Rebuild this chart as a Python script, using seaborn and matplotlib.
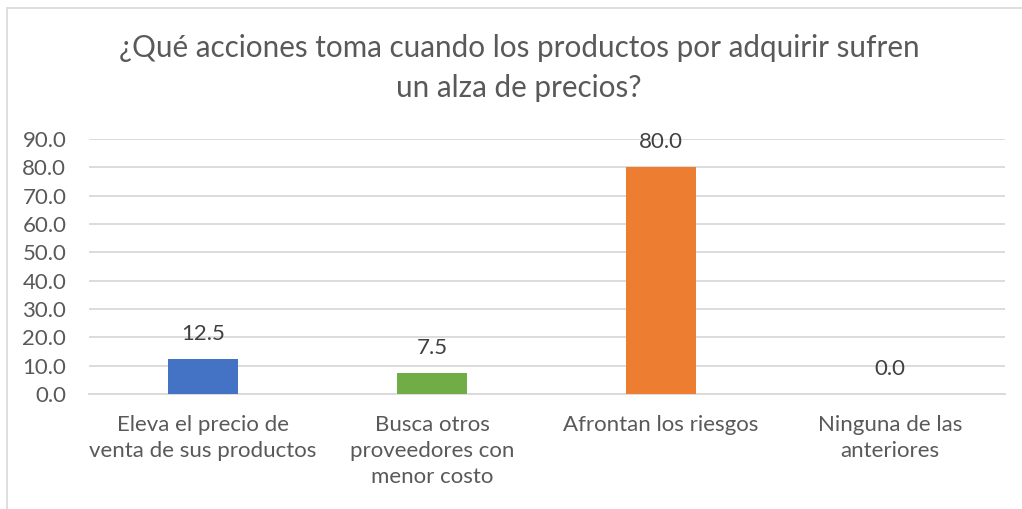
import matplotlib.pyplot as plt
import seaborn as sns
import pandas as pd
from matplotlib.patches import Rectangle

categorias = [
    "Eleva el precio de\nventa de sus productos",
    "Busca otros\nproveedores con\nmenor costo",
    "Afrontan los riesgos",
    "Ninguna de las\nanteriores",
]
porcentajes = [12.5, 7.5, 80.0, 0.0]
colores = ["#4472C4", "#70AD47", "#ED7D31", "#A5A5A5"]
y_ticks = [0, 10, 20, 30, 40, 50, 60, 70, 80, 90]

titulo = "¿Qué acciones toma cuando los productos por adquirir sufren\nun alza de precios?"

texto = "#595959"
rejilla = "#D9D9D9"


def main():
    sns.set_theme(style="white")
    plt.rcParams["font.family"] = ["Lato", "DejaVu Sans"]

    df = pd.DataFrame({"categoria": categorias, "valor": porcentajes})

    fig = plt.figure(figsize=(10.22, 5.09), dpi=100)
    ax = fig.add_axes([88.5 / 1022, 1 - 394 / 509, 916 / 1022, 255 / 509])

    sns.barplot(
        data=df,
        x="categoria",
        y="valor",
        hue="categoria",
        palette=colores,
        saturation=1,
        width=0.31,
        linewidth=0,
        legend=False,
        ax=ax,
        zorder=3,
    )

    ax.set_ylim(0, 90)
    ax.set_yticks(y_ticks)
    ax.set_yticklabels([f"{v:.1f}" for v in y_ticks])
    ax.set_xlim(-0.5, len(categorias) - 0.5)
    ax.set_xlabel("")
    ax.set_ylabel("")

    ax.grid(axis="y", color=rejilla, linewidth=1.3, zorder=0)
    for s in ["top", "right", "left"]:
        ax.spines[s].set_visible(False)
    ax.spines["bottom"].set_color(rejilla)
    ax.spines["bottom"].set_linewidth(1.3)

    ax.tick_params(axis="y", length=0, pad=16, labelsize=16, labelcolor=texto)
    ax.tick_params(axis="x", length=0, pad=15, labelsize=16, labelcolor=texto)
    for lbl in ax.get_xticklabels():
        lbl.set_linespacing(1.38)

    for i, v in enumerate(porcentajes):
        ax.annotate(
            f"{v:.1f}",
            xy=(i, v),
            xytext=(0, 18),
            textcoords="offset points",
            ha="center",
            va="center",
            fontsize=16,
            color="#404040",
        )

    fig.text(
        0.508,
        1 - 68 / 509,
        titulo,
        ha="center",
        va="center",
        fontsize=21.3,
        color=texto,
        linespacing=1.5,
    )

    fig.patches.append(
        Rectangle(
            (7 / 1022, -0.1),
            1.2,
            1 - 8 / 509 + 0.1,
            transform=fig.transFigure,
            fill=False,
            edgecolor=rejilla,
            linewidth=1.2,
        )
    )

    fig.savefig("out.png", dpi=100)


main()
